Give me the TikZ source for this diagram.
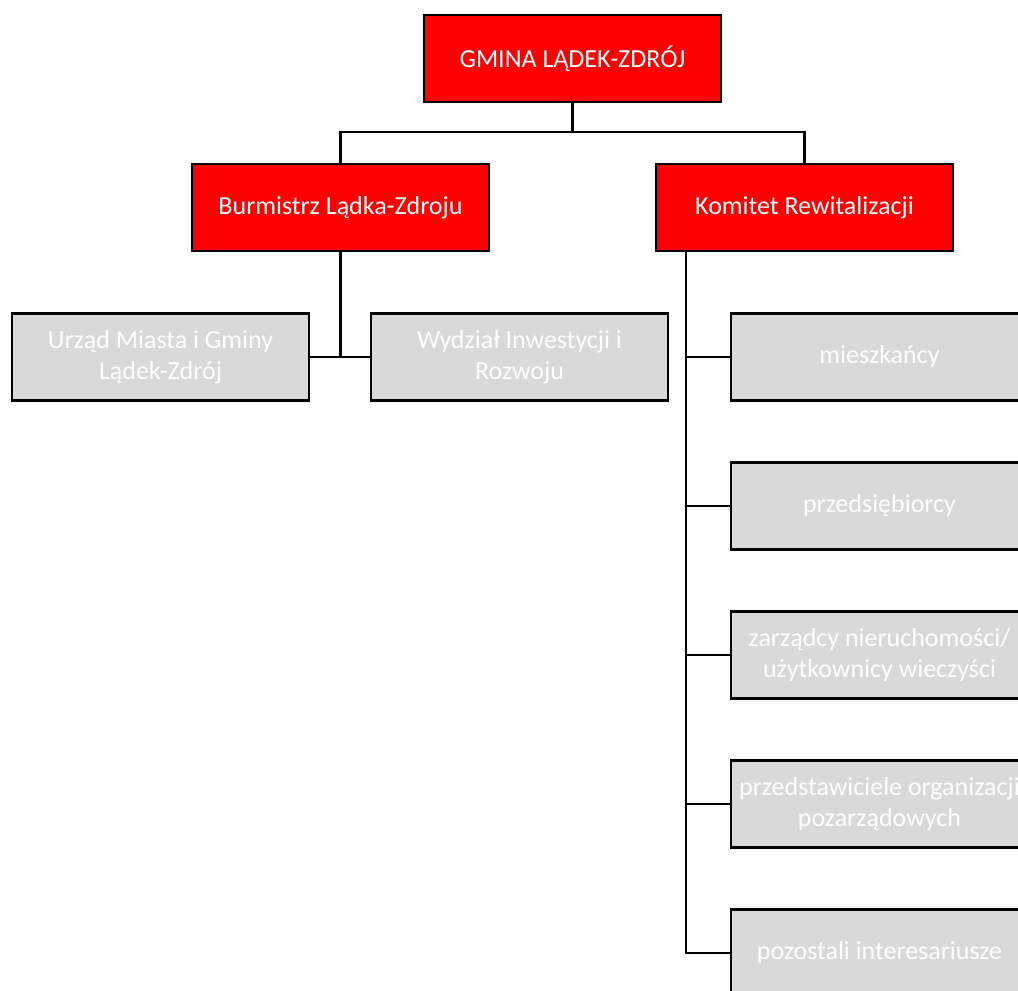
\documentclass[tikz,border=0pt]{standalone}
\usepackage{fontspec}
\setmainfont{Carlito}
\usepackage{tikz}
\usetikzlibrary{positioning}
\definecolor{lzRed}{HTML}{FF0000}
\definecolor{lzGrey}{HTML}{D9D9D9}
\definecolor{lzInk}{HTML}{000000}
\tikzset{
  box/.style     ={draw=lzInk,line width=1.6pt,minimum width=222.75pt,
                   minimum height=65.25pt,inner sep=2pt,align=center,
                   font=\fontsize{19.5}{23.2}\selectfont},
  redbox/.style  ={box,fill=lzRed,text=white},
  greybox/.style ={box,fill=lzGrey,text=white},
  link/.style    ={lzInk,line width=1.6pt},
}
\begin{document}
\begin{tikzpicture}[x=0.75pt,y=-0.75pt]
\useasboundingbox (0,0) rectangle (1018,991);
\clip (0,0) rectangle (1018,991);

%% top level
\node[redbox] (gmina) at (572.5,58.5) {GMINA LĄDEK-ZDRÓJ};
\node[redbox] (burm) at (340.5,207.5) {Burmistrz Lądka-Zdroju};
\node[redbox] (komitet) at (804.5,207.5) {Komitet Rewitalizacji};

%% office side
\node[greybox] (urzad) at (160.5,357) {Urząd Miasta i Gminy\\Lądek-Zdrój};
\node[greybox] (wydz) at (519.5,357) {Wydział Inwestycji i\\Rozwoju};

%% committee members
\node[greybox] (mieszk) at (879.5,357) {mieszkańcy};
\node[greybox] (przeds) at (879.5,506) {przedsiębiorcy};
\node[greybox] (zarz) at (879.5,655) {zarządcy nieruchomości/\\użytkownicy wieczyści};
\node[greybox] (ngo) at (879.5,804) {przedstawiciele organizacji\\pozarządowych};
\node[greybox] (inni) at (879.5,953) {pozostali interesariusze};

\draw[link] (gmina.south) -- ++(0,29) -| (burm.north);
\draw[link] (gmina.south) -- ++(0,29) -| (komitet.north);
\draw[link] (burm.south) -- (burm.south |- urzad.east);
\draw[link] (urzad.east) -- (wydz.west);

\coordinate (spine) at ([xshift=23.25pt]komitet.south west);
\draw[link] (spine) |- (inni.west);
\foreach \m in {mieszk,przeds,zarz,ngo}
  \draw[link] (\m.west) -- (\m.west -| spine);
\end{tikzpicture}
\end{document}
